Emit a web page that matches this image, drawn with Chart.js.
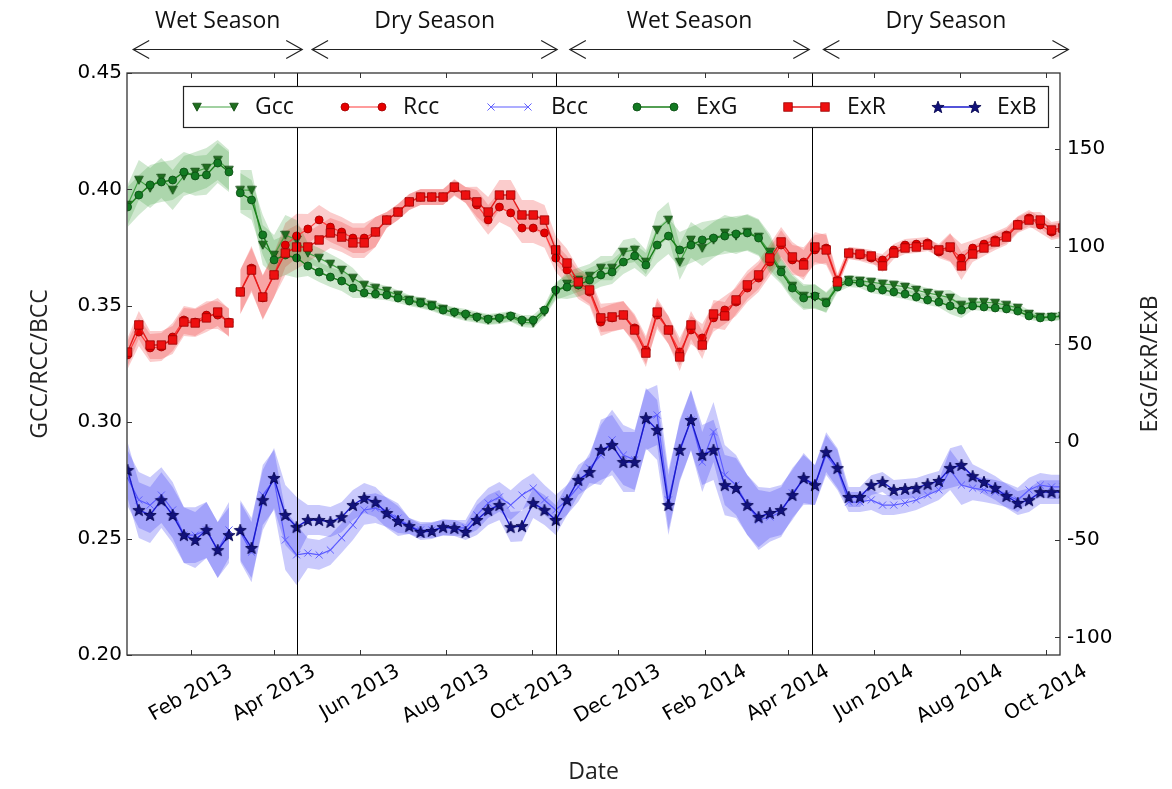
<!DOCTYPE html>
<html lang="en">
<head>
    <meta charset="UTF-8">
    <title>Colour indices 2013-2014</title>
    <script src="https://cdn.jsdelivr.net/npm/chart.js@4.4.1/dist/chart.umd.min.js"></script>
    <style>
        html, body { margin: 0; padding: 0; background: #ffffff; }
        .chart-box { position: relative; width: 1172px; height: 789px; }
    </style>
</head>
<body>
<div class="chart-box"><canvas id="indexChart"></canvas></div>

<script>
// sample dates as days counted from 1 Jan 2013 (8-day steps, gap in March 2013)
const days = [-14, -6, 2, 10, 18, 26, 34, 42, 50, 58, 62,
    66, 74, 82, 90, 98, 106, 114, 122, 130, 138, 146, 154, 162, 170, 178, 186, 194, 202, 210, 218,
    226, 234, 242, 250, 258, 266, 274, 282, 290, 298, 306, 314, 322, 330, 338, 346, 354, 362, 370, 378,
    386, 394, 402, 410, 418, 426, 434, 442, 450, 458, 466, 474, 482, 490, 498, 506, 514, 522, 530, 538,
    546, 554, 562, 570, 578, 586, 594, 602, 610, 618, 626, 634, 642, 650];

// chromatic coordinates (left axis)
const gcc = [0.3933, 0.4040, 0.4006, 0.4049, 0.3997, 0.4058, 0.4075, 0.4092, 0.4126, 0.4083, null,
    0.3997, 0.3997, 0.3761, 0.3718, 0.3804, 0.3783, 0.3727, 0.3705, 0.3680, 0.3654,
    0.3619, 0.3589, 0.3576, 0.3564, 0.3546, 0.3525, 0.3516, 0.3503, 0.3486, 0.3469,
    0.3456, 0.3448, 0.3439, 0.3443, 0.3452, 0.3430, 0.3426, 0.3473, 0.3559, 0.3594,
    0.3611, 0.3628, 0.3662, 0.3662, 0.3731, 0.3740, 0.3688, 0.3826, 0.3869, 0.3688,
    0.3783, 0.3748, 0.3783, 0.3813, 0.3800, 0.3817, 0.3796, 0.3731, 0.3654, 0.3585,
    0.3542, 0.3538, 0.3516, 0.3589, 0.3611, 0.3607, 0.3602, 0.3594, 0.3589, 0.3581,
    0.3568, 0.3555, 0.3546, 0.3534, 0.3503, 0.3516, 0.3516, 0.3512, 0.3503, 0.3491,
    0.3465, 0.3452, 0.3452, 0.3456];
const rcc = [0.3289, 0.3387, 0.3319, 0.3323, 0.3366, 0.3439, 0.3430, 0.3460, 0.3460, 0.3430, null,
    0.3559, 0.3662, 0.3534, 0.3632, 0.3761, 0.3800, 0.3830, 0.3869, 0.3838, 0.3817,
    0.3791, 0.3791, 0.3817, 0.3869, 0.3903, 0.3946, 0.3967, 0.3967, 0.3967, 0.4006,
    0.3976, 0.3933, 0.3869, 0.3924, 0.3899, 0.3834, 0.3834, 0.3813, 0.3705, 0.3654,
    0.3589, 0.3559, 0.3430, 0.3448, 0.3460, 0.3405, 0.3310, 0.3460, 0.3396, 0.3302,
    0.3396, 0.3362, 0.3448, 0.3482, 0.3516, 0.3576, 0.3619, 0.3688, 0.3761, 0.3697,
    0.3688, 0.3740, 0.3748, 0.3611, 0.3727, 0.3718, 0.3705, 0.3697, 0.3740, 0.3761,
    0.3765, 0.3770, 0.3731, 0.3748, 0.3705, 0.3748, 0.3765, 0.3783, 0.3804, 0.3851,
    0.3877, 0.3847, 0.3817, 0.3826];
const bcc = [0.2760, 0.2666, 0.2644, 0.2687, 0.2623, 0.2515, 0.2515, 0.2537, 0.2451, 0.2537, null,
    0.2528, 0.2442, 0.2687, 0.2752, 0.2494, 0.2430, 0.2438, 0.2430, 0.2451, 0.2503,
    0.2558, 0.2623, 0.2631, 0.2614, 0.2588, 0.2554, 0.2537, 0.2537, 0.2546, 0.2546,
    0.2546, 0.2601, 0.2653, 0.2679, 0.2644, 0.2687, 0.2717, 0.2666, 0.2623, 0.2666,
    0.2722, 0.2803, 0.2859, 0.2924, 0.2859, 0.2838, 0.3009, 0.3031, 0.2666, 0.2872,
    0.3009, 0.2829, 0.2958, 0.2773, 0.2730, 0.2644, 0.2580, 0.2593, 0.2614, 0.2696,
    0.2752, 0.2730, 0.2859, 0.2795, 0.2657, 0.2657, 0.2666, 0.2644, 0.2644, 0.2653,
    0.2666, 0.2687, 0.2709, 0.2795, 0.2730, 0.2717, 0.2709, 0.2700, 0.2687, 0.2666,
    0.2709, 0.2730, 0.2722, 0.2722];

// excess indices (right axis)
const exg = [120.4, 126.5, 131.7, 133.2, 134.2, 138.3, 136.3, 136.8, 142.9, 138.3, null,
    127.6, 124.0, 106.1, 93.3, 95.8, 94.3, 90.2, 87.1, 84.5, 82.5,
    78.9, 76.4, 75.8, 75.3, 73.8, 72.3, 71.2, 69.7, 67.6, 66.6,
    65.6, 64.1, 63.0, 63.6, 64.6, 62.5, 62.5, 67.6, 77.9, 79.4,
    80.5, 83.0, 85.6, 87.1, 92.2, 95.3, 90.7, 100.9, 105.5, 98.4,
    100.9, 103.5, 104.5, 105.5, 106.6, 107.1, 104.5, 95.8, 87.1, 78.9,
    73.8, 74.8, 71.2, 79.4, 82.0, 81.5, 78.9, 77.9, 76.9, 75.8,
    74.3, 72.8, 71.7, 69.7, 67.6, 69.7, 69.2, 68.7, 68.2, 67.1,
    64.6, 63.6, 64.1, 64.6];
const exr = [46.1, 60.0, 49.7, 49.7, 52.3, 61.5, 61.0, 63.6, 66.6, 61.0, null,
    76.9, 88.1, 74.3, 85.6, 96.8, 99.9, 99.9, 103.5, 107.1, 105.0,
    102.0, 102.0, 107.6, 113.7, 117.8, 123.0, 125.5, 125.5, 125.5, 130.6,
    126.5, 123.0, 117.8, 126.5, 126.5, 116.3, 116.3, 113.7, 98.4, 91.7,
    82.0, 77.9, 63.6, 64.1, 65.1, 57.4, 45.6, 66.6, 57.4, 43.6,
    60.0, 49.7, 65.6, 64.6, 72.8, 80.5, 85.6, 94.3, 102.5, 94.8,
    90.7, 99.9, 98.4, 82.0, 96.8, 96.3, 95.3, 90.2, 96.8, 99.4,
    99.9, 100.9, 98.4, 99.9, 90.2, 96.3, 99.4, 102.5, 105.0, 111.2,
    113.7, 113.7, 108.6, 109.6];
const exb = [-14.3, -34.8, -37.3, -29.7, -37.3, -47.6, -50.1, -45.0, -55.3, -47.6, null,
    -45.0, -54.2, -29.7, -18.4, -37.3, -43.5, -39.9, -39.9, -40.9, -38.4,
    -32.2, -28.6, -30.7, -36.3, -40.4, -43.0, -46.0, -45.5, -43.5, -44.0,
    -46.0, -39.9, -34.8, -32.2, -43.5, -43.0, -31.2, -34.8, -39.9, -29.7,
    -19.4, -15.3, -4.0, -1.5, -10.2, -10.2, 12.3, 6.2, -32.2, -4.0,
    11.3, -6.6, -4.0, -22.0, -23.5, -32.2, -38.4, -36.3, -34.8, -27.1,
    -18.4, -22.0, -5.1, -13.3, -28.1, -28.1, -22.0, -20.4, -24.5, -24.0,
    -23.5, -21.5, -19.9, -13.3, -11.7, -17.4, -20.4, -23.5, -27.6, -31.2,
    -29.7, -25.6, -25.6, -25.6];

// half widths of the shaded spread around each series
const gccSd = [0.0086, 0.0086, 0.0086, 0.0086, 0.0086, 0.0086, 0.0086, 0.0086, 0.0086, 0.0086, null,
    0.0086, 0.0086, 0.0086, 0.0086, 0.0086, 0.0086, 0.0043, 0.0043, 0.0043, 0.0043,
    0.0043, 0.0021, 0.0021, 0.0021, 0.0021, 0.0021, 0.0021, 0.0021, 0.0021, 0.0021,
    0.0021, 0.0021, 0.0021, 0.0021, 0.0021, 0.0021, 0.0021, 0.0021, 0.0034, 0.0052,
    0.0052, 0.0052, 0.0052, 0.0052, 0.0052, 0.0052, 0.0052, 0.0077, 0.0077, 0.0077,
    0.0077, 0.0077, 0.0077, 0.0077, 0.0077, 0.0077, 0.0077, 0.0077, 0.0052, 0.0052,
    0.0052, 0.0052, 0.0043, 0.0021, 0.0021, 0.0021, 0.0021, 0.0021, 0.0021, 0.0021,
    0.0021, 0.0021, 0.0021, 0.0034, 0.0034, 0.0017, 0.0017, 0.0017, 0.0017, 0.0017,
    0.0017, 0.0017, 0.0017, 0.0017];
const rccSd = [0.0060, 0.0060, 0.0060, 0.0060, 0.0060, 0.0060, 0.0060, 0.0060, 0.0060, 0.0060, null,
    0.0095, 0.0095, 0.0095, 0.0095, 0.0095, 0.0095, 0.0064, 0.0064, 0.0064, 0.0064,
    0.0064, 0.0064, 0.0064, 0.0034, 0.0034, 0.0034, 0.0034, 0.0034, 0.0034, 0.0034,
    0.0034, 0.0064, 0.0064, 0.0064, 0.0064, 0.0064, 0.0064, 0.0064, 0.0060, 0.0060,
    0.0060, 0.0060, 0.0060, 0.0060, 0.0060, 0.0060, 0.0060, 0.0060, 0.0060, 0.0060,
    0.0060, 0.0060, 0.0060, 0.0060, 0.0060, 0.0060, 0.0060, 0.0060, 0.0064, 0.0064,
    0.0064, 0.0064, 0.0064, 0.0026, 0.0026, 0.0026, 0.0026, 0.0026, 0.0026, 0.0026,
    0.0026, 0.0026, 0.0026, 0.0060, 0.0060, 0.0034, 0.0034, 0.0034, 0.0034, 0.0034,
    0.0034, 0.0034, 0.0034, 0.0034];
const bccSd = [0.0120, 0.0120, 0.0120, 0.0120, 0.0120, 0.0120, 0.0120, 0.0120, 0.0120, 0.0120, null,
    0.0129, 0.0129, 0.0129, 0.0129, 0.0129, 0.0129, 0.0064, 0.0064, 0.0064, 0.0064,
    0.0064, 0.0064, 0.0064, 0.0064, 0.0064, 0.0034, 0.0034, 0.0034, 0.0034, 0.0034,
    0.0034, 0.0064, 0.0064, 0.0064, 0.0064, 0.0064, 0.0064, 0.0064, 0.0064, 0.0064,
    0.0064, 0.0064, 0.0129, 0.0129, 0.0129, 0.0129, 0.0129, 0.0129, 0.0129, 0.0129,
    0.0129, 0.0129, 0.0129, 0.0129, 0.0129, 0.0129, 0.0129, 0.0107, 0.0107, 0.0107,
    0.0107, 0.0086, 0.0086, 0.0086, 0.0043, 0.0043, 0.0043, 0.0043, 0.0043, 0.0043,
    0.0043, 0.0043, 0.0043, 0.0086, 0.0086, 0.0052, 0.0052, 0.0052, 0.0052, 0.0052,
    0.0052, 0.0052, 0.0052, 0.0052];
const exgSd = [10.2, 10.2, 10.2, 10.2, 10.2, 10.2, 10.2, 10.2, 10.2, 10.2, null,
    10.2, 10.2, 10.2, 10.2, 10.2, 10.2, 5.1, 5.1, 5.1, 5.1,
    5.1, 2.6, 2.6, 2.6, 2.6, 2.6, 2.6, 2.6, 2.6, 2.6,
    2.6, 2.6, 2.6, 2.6, 2.6, 2.6, 2.6, 2.6, 4.1, 6.1,
    6.1, 6.1, 6.1, 6.1, 6.1, 6.1, 6.1, 9.2, 9.2, 9.2,
    9.2, 9.2, 9.2, 9.2, 9.2, 9.2, 9.2, 9.2, 6.1, 6.1,
    6.1, 6.1, 5.1, 2.6, 2.6, 2.6, 2.6, 2.6, 2.6, 2.6,
    2.6, 2.6, 2.6, 4.1, 4.1, 2.0, 2.0, 2.0, 2.0, 2.0,
    2.0, 2.0, 2.0, 2.0];
const exrSd = [7.2, 7.2, 7.2, 7.2, 7.2, 7.2, 7.2, 7.2, 7.2, 7.2, null,
    11.3, 11.3, 11.3, 11.3, 11.3, 11.3, 7.7, 7.7, 7.7, 7.7,
    7.7, 7.7, 7.7, 4.1, 4.1, 4.1, 4.1, 4.1, 4.1, 4.1,
    4.1, 7.7, 7.7, 7.7, 7.7, 7.7, 7.7, 7.7, 7.2, 7.2,
    7.2, 7.2, 7.2, 7.2, 7.2, 7.2, 7.2, 7.2, 7.2, 7.2,
    7.2, 7.2, 7.2, 7.2, 7.2, 7.2, 7.2, 7.2, 7.7, 7.7,
    7.7, 7.7, 7.7, 3.1, 3.1, 3.1, 3.1, 3.1, 3.1, 3.1,
    3.1, 3.1, 3.1, 7.2, 7.2, 4.1, 4.1, 4.1, 4.1, 4.1,
    4.1, 4.1, 4.1, 4.1];
const exbSd = [14.3, 14.3, 14.3, 14.3, 14.3, 14.3, 14.3, 14.3, 14.3, 14.3, null,
    15.4, 15.4, 15.4, 15.4, 15.4, 15.4, 7.7, 7.7, 7.7, 7.7,
    7.7, 7.7, 7.7, 7.7, 7.7, 4.1, 4.1, 4.1, 4.1, 4.1,
    4.1, 7.7, 7.7, 7.7, 7.7, 7.7, 7.7, 7.7, 7.7, 7.7,
    7.7, 7.7, 15.4, 15.4, 15.4, 15.4, 15.4, 15.4, 15.4, 15.4,
    15.4, 15.4, 15.4, 15.4, 15.4, 15.4, 15.4, 12.8, 12.8, 12.8,
    12.8, 10.2, 10.2, 10.2, 5.1, 5.1, 5.1, 5.1, 5.1, 5.1,
    5.1, 5.1, 5.1, 10.2, 10.2, 6.1, 6.1, 6.1, 6.1, 6.1,
    6.1, 6.1, 6.1, 6.1];

// axis ticks
const monthTicks = [31, 90, 151, 212, 273, 334, 396, 455, 516, 577, 638];
const monthLabels = ['Feb 2013', 'Apr 2013', 'Jun 2013', 'Aug 2013', 'Oct 2013', 'Dec 2013',
    'Feb 2014', 'Apr 2014', 'Jun 2014', 'Aug 2014', 'Oct 2014'];
const ccTicks = [0.20, 0.25, 0.30, 0.35, 0.40, 0.45];
const exTicks = [-100, -50, 0, 50, 100, 150];

// seasons (day ranges of the arrows above the plot) and the boundaries drawn inside it
const seasons = [
    { label: 'Wet Season', from: -10, to: 110 },
    { label: 'Dry Season', from: 117, to: 291 },
    { label: 'Wet Season', from: 300, to: 470 },
    { label: 'Dry Season', from: 480, to: 654 }
];
const seasonBreaks = [106.5, 290.5, 472];

const tickFont = { family: 'DejaVu Sans', size: 20 };
const labelFont = { family: 'Open Sans', size: 23 };

// filled marker images (matplotlib style)
function makeStar(size, fill, edge) {
    const c = document.createElement('canvas');
    c.width = c.height = size;
    const g = c.getContext('2d');
    const m = size / 2, R = size / 2 - 0.6, r = R * 0.42;
    g.beginPath();
    for (let i = 0; i < 10; i++) {
        const a = -Math.PI / 2 + i * Math.PI / 5;
        const rr = i % 2 ? r : R;
        g.lineTo(m + rr * Math.cos(a), m + 0.5 + rr * Math.sin(a));
    }
    g.closePath();
    g.fillStyle = fill; g.fill();
    g.strokeStyle = edge; g.lineWidth = 0.8; g.stroke();
    return c;
}
function makeTriDown(size, fill, edge) {
    const c = document.createElement('canvas');
    c.width = c.height = size;
    const g = c.getContext('2d');
    g.beginPath();
    g.moveTo(0.7, 1.2); g.lineTo(size - 0.7, 1.2); g.lineTo(size / 2, size - 0.8);
    g.closePath();
    g.fillStyle = fill; g.fill();
    g.strokeStyle = edge; g.lineWidth = 0.8; g.stroke();
    return c;
}
const starMark = makeStar(14, '#12127a', '#00004a');
const triMark = makeTriDown(10, '#1f6e1f', '#0c450c');

function pts(vals) {
    return days.map((d, i) => ({ x: d, y: vals[i] }));
}
function edge(vals, sd, sign) {
    return days.map((d, i) => ({ x: d, y: vals[i] == null ? null : vals[i] + sign * sd[i] }));
}

const lines = [
    { label: 'Gcc', data: pts(gcc), yAxisID: 'yL', borderColor: '#45a345', borderWidth: 1.2,
      pointStyle: triMark, pointRadius: 4, order: 5 },
    { label: 'Rcc', data: pts(rcc), yAxisID: 'yL', borderColor: '#ff3b3b', borderWidth: 1.2,
      pointStyle: 'circle', pointRadius: 4, pointBackgroundColor: '#e60000', pointBorderColor: '#a00000',
      pointBorderWidth: 0.8, order: 4 },
    { label: 'Bcc', data: pts(bcc), yAxisID: 'yL', borderColor: '#5c5cff', borderWidth: 1.2,
      pointStyle: 'crossRot', pointRadius: 5, pointBorderColor: '#6060ff', pointBorderWidth: 1, order: 3 },
    { label: 'ExG', data: pts(exg), yAxisID: 'yR', borderColor: '#1a7f1a', borderWidth: 1.4,
      pointStyle: 'circle', pointRadius: 4, pointBackgroundColor: '#137a22', pointBorderColor: '#0a4a12',
      pointBorderWidth: 0.8, order: 2 },
    { label: 'ExR', data: pts(exr), yAxisID: 'yR', borderColor: '#e51c1c', borderWidth: 1.4,
      pointStyle: 'rect', pointRadius: 6, pointBackgroundColor: '#ee1010', pointBorderColor: '#9a0000',
      pointBorderWidth: 0.8, order: 1 },
    { label: 'ExB', data: pts(exb), yAxisID: 'yR', borderColor: '#1a1acc', borderWidth: 1.4,
      pointStyle: starMark, pointRadius: 6, order: 0 }
];

function bandPair(vals, sd, axis, color) {
    return [
        { data: edge(vals, sd, 1), yAxisID: axis, borderWidth: 0, pointRadius: 0, fill: false, order: 10 },
        { data: edge(vals, sd, -1), yAxisID: axis, borderWidth: 0, pointRadius: 0, fill: '-1',
          backgroundColor: color, order: 10 }
    ];
}

const datasets = lines.concat(
    bandPair(gcc, gccSd, 'yL', 'rgba(40,150,40,0.22)'),
    bandPair(exg, exgSd, 'yR', 'rgba(40,150,40,0.22)'),
    bandPair(rcc, rccSd, 'yL', 'rgba(240,50,50,0.25)'),
    bandPair(exr, exrSd, 'yR', 'rgba(240,50,50,0.25)'),
    bandPair(bcc, bccSd, 'yL', 'rgba(60,60,245,0.27)'),
    bandPair(exb, exbSd, 'yR', 'rgba(60,60,245,0.27)')
);
datasets.forEach(ds => { ds.spanGaps = false; ds.tension = 0; });

// legend spots inside the plot (sample start, text start)
const legendSpots = [[197, 255], [345, 403], [491, 551], [637, 696], [788, 847], [938, 997]];

function drawMark(ctx, ds, x, y) {
    const st = ds.pointStyle, r = ds.pointRadius;
    if (st instanceof HTMLCanvasElement) {
        ctx.drawImage(st, x - st.width / 2, y - st.height / 2);
    } else if (st === 'circle') {
        ctx.beginPath(); ctx.arc(x, y, r, 0, Math.PI * 2);
        ctx.fillStyle = ds.pointBackgroundColor; ctx.fill();
        ctx.lineWidth = ds.pointBorderWidth; ctx.strokeStyle = ds.pointBorderColor; ctx.stroke();
    } else if (st === 'rect') {
        const s = r * Math.SQRT1_2;
        ctx.fillStyle = ds.pointBackgroundColor; ctx.fillRect(x - s, y - s, 2 * s, 2 * s);
        ctx.lineWidth = ds.pointBorderWidth; ctx.strokeStyle = ds.pointBorderColor; ctx.strokeRect(x - s, y - s, 2 * s, 2 * s);
    } else if (st === 'crossRot') {
        const s = r * Math.SQRT1_2;
        ctx.beginPath();
        ctx.moveTo(x - s, y - s); ctx.lineTo(x + s, y + s);
        ctx.moveTo(x - s, y + s); ctx.lineTo(x + s, y - s);
        ctx.lineWidth = ds.pointBorderWidth; ctx.strokeStyle = ds.pointBorderColor; ctx.stroke();
    }
}

function arrowHead(ctx, x, y, dir) {
    ctx.beginPath();
    ctx.moveTo(x - dir * 16, y - 9);
    ctx.lineTo(x, y);
    ctx.lineTo(x - dir * 16, y + 9);
    ctx.stroke();
}

const overlay = {
    id: 'overlay',
    afterDraw(chart) {
        const { ctx, chartArea: a, scales } = chart;
        ctx.save();

        // season boundaries
        ctx.strokeStyle = '#000';
        ctx.lineWidth = 1;
        seasonBreaks.forEach(d => {
            const x = Math.round(scales.x.getPixelForValue(d)) + 0.5;
            ctx.beginPath(); ctx.moveTo(x, a.top); ctx.lineTo(x, a.bottom); ctx.stroke();
        });

        // frame with inward ticks
        ctx.strokeStyle = '#333';
        ctx.lineWidth = 1.3;
        ctx.strokeRect(a.left, a.top, a.right - a.left, a.bottom - a.top);
        ctx.lineWidth = 1;
        ctx.beginPath();
        scales.yL.ticks.forEach(t => {
            const y = Math.round(scales.yL.getPixelForValue(t.value)) + 0.5;
            ctx.moveTo(a.left, y); ctx.lineTo(a.left + 5, y);
        });
        scales.yR.ticks.forEach(t => {
            const y = Math.round(scales.yR.getPixelForValue(t.value)) + 0.5;
            ctx.moveTo(a.right, y); ctx.lineTo(a.right - 5, y);
        });
        scales.x.ticks.forEach(t => {
            const x = Math.round(scales.x.getPixelForValue(t.value)) + 0.5;
            ctx.moveTo(x, a.bottom); ctx.lineTo(x, a.bottom - 5);
            ctx.moveTo(x, a.top); ctx.lineTo(x, a.top + 5);
        });
        ctx.stroke();

        // rotated month labels, centred on their ticks
        ctx.fillStyle = '#000';
        ctx.font = tickFont.size + 'px "' + tickFont.family + '"';
        ctx.textAlign = 'center';
        ctx.textBaseline = 'middle';
        scales.x.ticks.forEach((t, i) => {
            const x = scales.x.getPixelForValue(t.value);
            const w = ctx.measureText(monthLabels[i]).width;
            const cy = a.bottom + 7 + (w * 0.5 + 19 * 0.866) / 2;
            ctx.save();
            ctx.translate(x, cy);
            ctx.rotate(-Math.PI / 6);
            ctx.fillText(monthLabels[i], 0, 0);
            ctx.restore();
        });

        // right axis title (reads upward)
        ctx.font = labelFont.size + 'px "' + labelFont.family + '"';
        ctx.fillStyle = '#222';
        ctx.save();
        ctx.translate(1150, (a.top + a.bottom) / 2);
        ctx.rotate(-Math.PI / 2);
        ctx.fillText('ExG/ExR/ExB', 0, 0);
        ctx.restore();

        // legend box
        const ly = 107;
        ctx.fillStyle = '#fff';
        ctx.fillRect(183.5, 86.5, 865, 41);
        ctx.strokeStyle = '#222';
        ctx.lineWidth = 1.2;
        ctx.strokeRect(183.5, 86.5, 865, 41);
        lines.forEach((ds, i) => {
            const [sx, tx] = legendSpots[i];
            ctx.beginPath(); ctx.moveTo(sx, ly); ctx.lineTo(sx + 37, ly);
            ctx.strokeStyle = ds.borderColor; ctx.lineWidth = ds.borderWidth; ctx.stroke();
            drawMark(ctx, ds, sx, ly);
            drawMark(ctx, ds, sx + 37, ly);
            ctx.fillStyle = '#111';
            ctx.textAlign = 'left';
            ctx.fillText(ds.label, tx, ly);
        });

        // season arrows above the plot
        ctx.strokeStyle = '#222';
        ctx.lineWidth = 1.2;
        ctx.textAlign = 'center';
        seasons.forEach(s => {
            const x1 = scales.x.getPixelForValue(s.from);
            const x2 = scales.x.getPixelForValue(s.to);
            const y = 49.5;
            ctx.beginPath(); ctx.moveTo(x1, y); ctx.lineTo(x2, y); ctx.stroke();
            arrowHead(ctx, x1, y, -1);
            arrowHead(ctx, x2, y, 1);
            ctx.fillStyle = '#111';
            ctx.fillText(s.label, (x1 + x2) / 2, 21);
        });

        ctx.restore();
    }
};

new Chart(document.getElementById('indexChart'), {
    type: 'line',
    data: { datasets: datasets },
    options: {
        responsive: true,
        maintainAspectRatio: false,
        animation: false,
        layout: { padding: { top: 73, left: 0, right: 0, bottom: 0 } },
        plugins: { legend: { display: false }, tooltip: { enabled: false } },
        scales: {
            x: {
                type: 'linear',
                min: -14.4,
                max: 648,
                grid: { display: false, drawTicks: false },
                border: { display: false },
                ticks: { display: false },
                afterBuildTicks: s => { s.ticks = monthTicks.map(v => ({ value: v })); },
                afterFit: s => { s.height = 134; },
                title: { display: true, text: 'Date', font: labelFont, color: '#222', padding: { top: 0, bottom: 3 } }
            },
            yL: {
                position: 'left',
                min: 0.20,
                max: 0.45,
                grid: { display: false, drawTicks: false },
                border: { display: false },
                afterBuildTicks: s => { s.ticks = ccTicks.map(v => ({ value: v })); },
                afterFit: s => { s.width = 127; },
                ticks: { font: tickFont, color: '#000', padding: 5, callback: v => v.toFixed(2) },
                title: { display: true, text: 'GCC/RCC/BCC', font: labelFont, color: '#222', padding: { top: 27, bottom: 0 } }
            },
            yR: {
                position: 'right',
                min: -109,
                max: 189,
                grid: { display: false, drawTicks: false },
                border: { display: false },
                afterBuildTicks: s => { s.ticks = exTicks.map(v => ({ value: v })); },
                afterFit: s => { s.width = 112; },
                ticks: { font: tickFont, color: '#000', padding: 7, callback: v => String(v) }
            }
        }
    },
    plugins: [overlay]
});
</script>
</body>
</html>
